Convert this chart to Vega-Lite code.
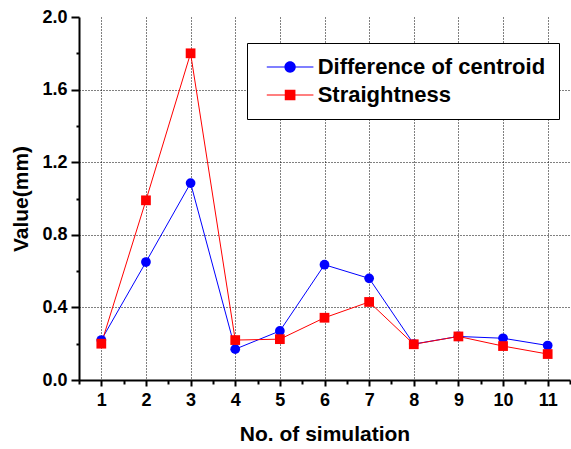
{
  "$schema": "https://vega.github.io/schema/vega-lite/v6.json",
  "width": 491,
  "height": 363,
  "autosize": "none",
  "padding": {"left": 79, "top": 17, "right": 1, "bottom": 69},
  "background": "white",
  "config": {
    "view": {"stroke": null},
    "font": "Liberation Sans",
    "axis": {
      "domainColor": "black",
      "domainWidth": 2,
      "tickColor": "black",
      "tickWidth": 2,
      "gridColor": "black",
      "gridDash": [1, 2],
      "gridWidth": 1,
      "labelFont": "Liberation Sans",
      "labelFontSize": 18,
      "labelFontWeight": "bold",
      "labelColor": "black",
      "titleFont": "Liberation Sans",
      "titleFontSize": 21,
      "titleFontWeight": "bold",
      "titleColor": "black"
    }
  },
  "data": {
    "values": [
      {"sim": 1, "series": "Difference of centroid", "value": 0.22},
      {"sim": 2, "series": "Difference of centroid", "value": 0.65},
      {"sim": 3, "series": "Difference of centroid", "value": 1.085},
      {"sim": 4, "series": "Difference of centroid", "value": 0.17},
      {"sim": 5, "series": "Difference of centroid", "value": 0.27},
      {"sim": 6, "series": "Difference of centroid", "value": 0.635},
      {"sim": 7, "series": "Difference of centroid", "value": 0.56},
      {"sim": 8, "series": "Difference of centroid", "value": 0.198},
      {"sim": 9, "series": "Difference of centroid", "value": 0.24},
      {"sim": 10, "series": "Difference of centroid", "value": 0.23},
      {"sim": 11, "series": "Difference of centroid", "value": 0.19},
      {"sim": 1, "series": "Straightness", "value": 0.2},
      {"sim": 2, "series": "Straightness", "value": 0.99},
      {"sim": 3, "series": "Straightness", "value": 1.8},
      {"sim": 4, "series": "Straightness", "value": 0.22},
      {"sim": 5, "series": "Straightness", "value": 0.225},
      {"sim": 6, "series": "Straightness", "value": 0.343},
      {"sim": 7, "series": "Straightness", "value": 0.43},
      {"sim": 8, "series": "Straightness", "value": 0.197},
      {"sim": 9, "series": "Straightness", "value": 0.24},
      {"sim": 10, "series": "Straightness", "value": 0.187},
      {"sim": 11, "series": "Straightness", "value": 0.143}
    ]
  },
  "encoding": {
    "x": {
      "field": "sim",
      "type": "quantitative",
      "scale": {"domain": [0.5, 11.5], "nice": false, "zero": false},
      "axis": {
        "title": "No. of simulation",
        "values": [0.5, 1, 1.5, 2, 2.5, 3, 3.5, 4, 4.5, 5, 5.5, 6, 6.5, 7, 7.5, 8, 8.5, 9, 9.5, 10, 10.5, 11, 11.5],
        "labelExpr": "datum.value % 1 === 0 ? format(datum.value, 'd') : ''",
        "tickSize": {"condition": {"test": "datum.value % 1 !== 0", "value": 4}, "value": 6},
        "gridOpacity": {"condition": {"test": "datum.value % 1 !== 0", "value": 0}, "value": 1},
        "labelPadding": 5,
        "labelFlush": false,
        "labelOverlap": false,
        "titlePadding": 14
      }
    },
    "y": {
      "field": "value",
      "type": "quantitative",
      "scale": {"domain": [0, 2], "nice": false},
      "axis": {
        "title": "Value(mm)",
        "values": [0, 0.2, 0.4, 0.6, 0.8, 1, 1.2, 1.4, 1.6, 1.8, 2],
        "labelExpr": "round(datum.value * 10) % 4 === 0 ? format(datum.value, '.1f') : ''",
        "tickSize": {"condition": {"test": "round(datum.value * 10) % 4 !== 0", "value": 3}, "value": 8},
        "gridOpacity": {"condition": {"test": "round(datum.value * 10) % 4 !== 0 || datum.value > 1.9", "value": 0}, "value": 1},
        "labelPadding": 4,
        "labelFlush": false,
        "labelOverlap": false,
        "titlePadding": 10
      }
    }
  },
  "layer": [
    {
      "mark": {"type": "line", "strokeWidth": 1},
      "encoding": {
        "stroke": {
          "field": "series",
          "type": "nominal",
          "scale": {"range": ["#0000ff", "#ff0000"]},
          "legend": null
        }
      }
    },
    {
      "mark": {"type": "point", "filled": true, "opacity": 1, "size": 95},
      "encoding": {
        "shape": {
          "field": "series",
          "type": "nominal",
          "scale": {"range": ["circle", "square"]},
          "legend": null
        },
        "color": {
          "field": "series",
          "type": "nominal",
          "scale": {"domain": ["Difference of centroid", "Straightness"], "range": ["#0000ff", "#ff0000"]},
          "legend": {
            "title": null,
            "orient": "none",
            "legendX": 168,
            "legendY": 26,
            "strokeColor": "black",
            "fillColor": "white",
            "padding": 13,
            "labelFont": "Liberation Sans",
            "labelFontSize": 22,
            "labelFontWeight": "bold",
            "labelColor": "black",
            "labelLimit": 0,
            "labelExpr": "datum.label + '\u00a0\u2009'",
            "symbolSize": 121,
            "symbolOffset": 19.1,
            "labelOffset": 16.6,
            "rowPadding": 6,
            "symbolStrokeWidth": 0,
            "encoding": {
              "symbols": {
                "shape": {
                  "condition": {"test": "datum.value === 'Straightness'", "value": "M-4.24,-0.1H4.24V0.1H-4.24ZM-0.97,-0.97H0.97V0.97H-0.97Z"},
                  "value": "M-4.24,-0.1H4.24V0.1H-4.24ZM-1.03,0A1.03,1.03,0,1,1,1.03,0A1.03,1.03,0,1,1,-1.03,0Z"
                }
              }
            }
          }
        }
      }
    }
  ]
}
